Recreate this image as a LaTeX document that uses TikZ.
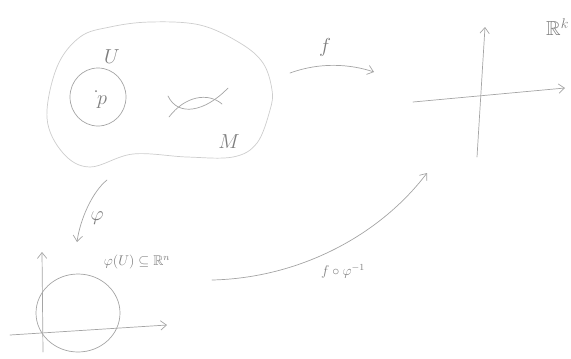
\documentclass[tikz,border=0pt]{standalone}
\usepackage{amsmath}
\usepackage{amssymb}
\usepackage{xcolor}
\usepackage{tikz}
\usetikzlibrary{arrows.meta, positioning, calc}
\definecolor{pencil}{RGB}{165,165,165}
\definecolor{faint}{RGB}{205,205,205}
\definecolor{inkgray}{RGB}{125,125,125}
\tikzset{
  stroke/.style={draw=pencil, line width=0.6pt, line cap=round},
  faintstroke/.style={draw=faint, line width=0.6pt, line cap=round},
  arrow/.style={-{Straight Barb[length=5pt, width=8pt]}, stroke},
  label/.style={text=inkgray, inner sep=0pt, font=\LARGE}
}
\begin{document}
\begin{tikzpicture}[x=0.03cm, y=-0.03cm,
  smalllabel/.style={text=inkgray, inner sep=0pt, font=\large}
]
  \useasboundingbox (0,0) rectangle (571,358);

  \draw[faintstroke] plot[smooth cycle, tension=0.6] coordinates {
    (110,27) (150,22) (200,25) (240,43) (263,63) (272,90) (270,110)
    (257,143) (233,157) (187,157) (133,154) (90,167) (63,153) (47,118)
    (57,67) (80,37)};
  \draw[stroke] (98,97) ellipse [x radius=28, y radius=29];
  \node[label] (U) at (112,57) {$U$};
  \fill[inkgray] (96,91) circle [radius=1];
  \node[label] (p) at (102,102) {$p$};
  \draw[stroke] (169,117) .. controls (185,96) and (208,92) .. (222,104);
  \draw[stroke] (168,96) .. controls (178,117) and (205,112) .. (228,88);
  \node[label] (M) at (229,142) {$M$};

  \coordinate (fs) at (290,73);
  \coordinate (fe) at (374,72);
  \draw[arrow] (fs) .. controls (320,62) and (350,64) .. (fe);
  \node[label] (f) at (325,47) {$f$};

  \coordinate (yb) at (477,157);
  \coordinate (yt) at (485,27);
  \coordinate (xl) at (413,102);
  \coordinate (xr) at (565,88);
  \draw[arrow] (yb) -- (yt);
  \draw[arrow] (xl) -- (xr);
  \node[label, anchor=west] (Rk) at (546,27) {$\mathbb{R}^k$};

  \coordinate (phis) at (107,180);
  \coordinate (phie) at (77,242);
  \draw[arrow] (phis) .. controls (92,192) and (80,220) .. (phie);
  \node[label] (phi) at (97,218) {$\varphi$};

  \coordinate (vb) at (43,352);
  \coordinate (vt) at (42,252);
  \coordinate (hl) at (10,335);
  \coordinate (hr) at (167,325);
  \draw[arrow] (vb) -- (vt);
  \draw[arrow] (hl) -- (hr);
  \draw[stroke] (78,313) ellipse [x radius=42, y radius=39];
  \node[smalllabel] (img) at (137,262) {$\varphi(U)\subseteq\mathbb{R}^n$};

  \coordinate (cs) at (212,280);
  \coordinate (ce) at (427,173);
  \draw[arrow] (cs) .. controls (300,278) and (380,235) .. (ce);
  \node[smalllabel] (comp) at (343,271) {$f\circ\varphi^{-1}$};
\end{tikzpicture}
\end{document}
